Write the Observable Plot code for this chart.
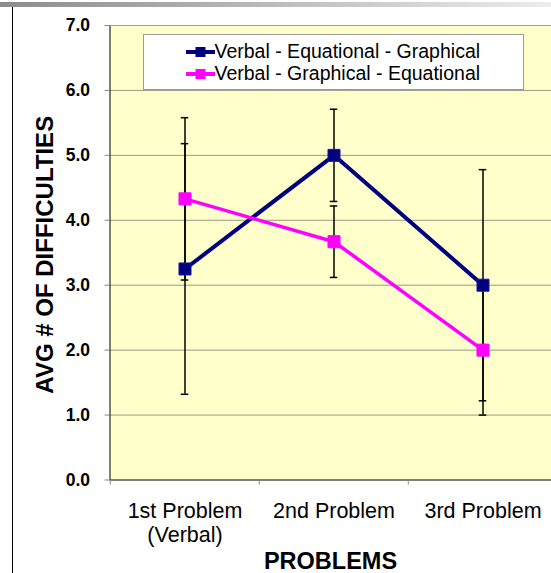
<!DOCTYPE html>
<html><head><meta charset="utf-8">
<script src="https://cdn.jsdelivr.net/npm/d3@7"></script>
<script src="https://cdn.jsdelivr.net/npm/@observablehq/plot@0.6"></script>
<style>
html,body{margin:0;padding:0;background:#fff;overflow:hidden;}
#wrap{position:relative;width:551px;height:573px;overflow:hidden;font-family:"Liberation Sans",Arial,sans-serif;}
#wrap svg.chart{position:absolute;left:0;top:0;}
#topbar{position:absolute;left:0;top:2px;width:551px;height:5px;background:linear-gradient(to right,#8c8c8c,#ececec);}
#leftline{position:absolute;left:12px;top:7px;width:1px;height:566px;background:#000;}
#legend{position:absolute;left:142.5px;top:34px;width:381px;height:56px;background:#fff;border:1px solid #9a9a9a;box-sizing:border-box;}
.lrow{position:absolute;left:42px;height:22px;display:flex;align-items:center;font-size:19.5px;color:#000;white-space:nowrap;}
.lrow svg{display:block;margin-right:0;}
</style>
</head><body>
<div id="wrap"></div>
<script>
const categories = ["1st Problem\n(Verbal)", "2nd Problem", "3rd Problem"];
const seriesNames = ["Verbal - Equational - Graphical", "Verbal - Graphical - Equational"];
const seriesColors = ["#000080", "#FF00FF"];
const vegValues = [3.25, 5.0, 3.0];
const vegErrors = [1.93, 0.71, 1.78];
const vgeValues = [4.33, 3.67, 2.0];
const vgeErrors = [1.25, 0.55, 1.0];
const yTicks = [0, 1, 2, 3, 4, 5, 6, 7];
const gridTicks = [1, 2, 3, 4, 5, 6];
const xTitle = "PROBLEMS";
const yTitle = "AVG # OF DIFFICULTIES";

const W = 551, H = 573;
const mL = 109.5, mR = -7, mT = 25, mB = 93.5;
const bw = (W - mR - mL) / categories.length;
const capInset = (bw - 8) / 2;

const seriesData = [
  {name: seriesNames[0], values: vegValues, errors: vegErrors, width: 4},
  {name: seriesNames[1], values: vgeValues, errors: vgeErrors, width: 3.5}
];
const rows = [];
seriesData.forEach(s => categories.forEach((c, i) => rows.push({series: s.name, problem: c, value: s.values[i], err: s.errors[i]})));

const marks = [
  Plot.frame({fill: "#FFFFCC"}),
  Plot.gridY(gridTicks, {stroke: "#9a9a88", strokeOpacity: 1}),
  Plot.frame({stroke: "#000"}),
  Plot.ruleY([7], {stroke: "#9a9a9a"}),
  Plot.axisY(yTicks, {tickSize: 5, tickPadding: 15, tickFormat: d3.format(".1f"), stroke: "#888", fill: "#000", fontSize: 17.5, fontWeight: "bold", label: null}),
  Plot.axisX({tickSize: 5, tickFormat: () => "", dx: -bw / 2, stroke: "#888", label: null}),
  Plot.axisX({tickSize: 0, tickPadding: 21, fill: "#000", fontSize: 21.5, lineHeight: 1.12, label: null}),
  Plot.text([xTitle], {text: d => d, frameAnchor: "bottom", lineAnchor: "middle", textAnchor: "middle", dy: 81, dx: -3.75, fontSize: 23.5, fontWeight: "bold", fill: "#000"}),
  Plot.text([yTitle], {text: d => d, frameAnchor: "left", lineAnchor: "middle", textAnchor: "middle", dx: -64.5, dy: 2, rotate: -90, fontSize: 24, fontWeight: "bold", fill: "#000"})
];
seriesData.forEach((s, k) => {
  const d = rows.filter(r => r.series === s.name);
  marks.push(Plot.line(d, {x: "problem", y: "value", stroke: seriesColors[k], strokeWidth: s.width}));
});
seriesData.forEach((s, k) => {
  const d = rows.filter(r => r.series === s.name);
  marks.push(Plot.ruleX(d, {x: "problem", y1: r => r.value - r.err, y2: r => r.value + r.err, stroke: "#000", strokeWidth: 1.5}));
  marks.push(Plot.tickY(d, {x: "problem", y: r => r.value - r.err, insetLeft: capInset, insetRight: capInset, stroke: "#000", strokeWidth: 1.5}));
  marks.push(Plot.tickY(d, {x: "problem", y: r => r.value + r.err, insetLeft: capInset, insetRight: capInset, stroke: "#000", strokeWidth: 1.5}));
});
seriesData.forEach((s, k) => {
  const d = rows.filter(r => r.series === s.name);
  marks.push(Plot.dot(d, {x: "problem", y: "value", symbol: "square", r: 6.8, fill: seriesColors[k], stroke: k === 0 ? "#1a1aa0" : seriesColors[k], strokeWidth: 1}));
});

const chart = Plot.plot({
  width: W, height: H,
  marginLeft: mL, marginRight: mR, marginTop: mT, marginBottom: mB,
  style: {background: "transparent", fontFamily: "'Liberation Sans', Arial, sans-serif"},
  x: {domain: categories, padding: 0, axis: null},
  y: {domain: [0, 7], axis: null},
  marks
});
chart.classList.add("chart");
const wrap = document.getElementById("wrap");
wrap.appendChild(chart);

const topBar = document.createElement("div"); topBar.id = "topbar"; wrap.appendChild(topBar);
const leftLine = document.createElement("div"); leftLine.id = "leftline"; wrap.appendChild(leftLine);
const leg = document.createElement("div"); leg.id = "legend"; wrap.appendChild(leg);
seriesNames.forEach((n, k) => {
  const row = document.createElement("div");
  row.className = "lrow";
  row.style.top = (5.7 + k * 22) + "px";
  row.innerHTML = `<svg width="29" height="14"><line x1="0" y1="7" x2="29" y2="7" stroke="${seriesColors[k]}" stroke-width="4"/><rect x="9.5" y="2" width="10" height="10" fill="${seriesColors[k]}"/></svg><span>${n}</span>`;
  leg.appendChild(row);
});
</script>
</body></html>
